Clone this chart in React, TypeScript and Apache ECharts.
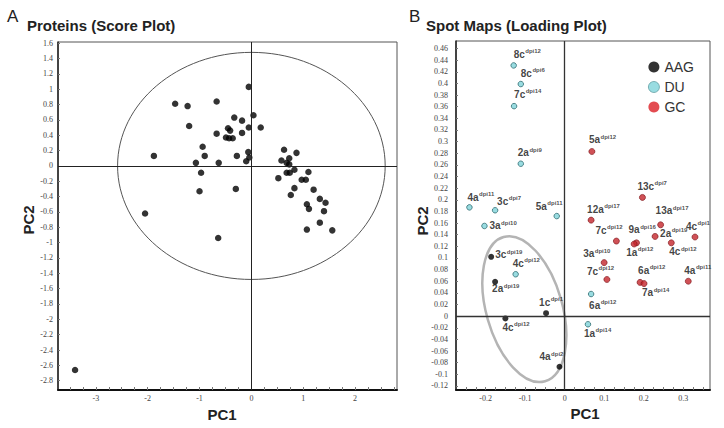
import React, { useEffect, useRef } from 'react';
import * as echarts from 'echarts';

// ---------- Panel A: Proteins (Score Plot) ----------
const scorePC1 = [
  -0.05, -1.47, -1.23, -0.67, -0.33, -0.18, 0.04, -1.2, -0.45, -0.41, -0.05, 0.18, -0.67, -0.18,
  -0.49, -0.43, -0.36, -0.94, -1.88, -0.9, -0.28, -0.06, -0.04, -1.07, -0.63, -0.1, -0.97, -1.0,
  -0.3, -2.05, -0.64, -3.4, 0.63, 0.87, 0.73, 0.58, 0.68, 0.73, 0.83, 0.74, 0.68, 1.1, 0.52, 0.97,
  1.05, 0.83, 1.2, 0.76, 1.32, 1.43, 1.07, 1.11, 1.4, 1.32, 1.07, 1.56,
];
const scorePC2 = [
  1.03, 0.81, 0.78, 0.84, 0.63, 0.59, 0.66, 0.52, 0.49, 0.46, 0.5, 0.5, 0.42, 0.43, 0.37, 0.36,
  0.36, 0.25, 0.13, 0.13, 0.13, 0.18, 0.11, 0.04, 0.04, 0.06, -0.09, -0.33, -0.3, -0.62, -0.94,
  -2.66, 0.21, 0.17, 0.1, 0.07, 0.04, 0.02, -0.05, -0.09, -0.09, -0.08, -0.16, -0.18, -0.18, -0.29,
  -0.31, -0.38, -0.43, -0.48, -0.5, -0.56, -0.59, -0.74, -0.83, -0.84,
];
// confidence ellipse (semi-axes in PC units)
const scoreEllipse = [0, 0, 2.58, 1.48];
const scoreXLabels = [-3, -2, -1, 0, 1, 2];
const scoreXTicks = [
  -3.5, -3.25, -3, -2.75, -2.5, -2.25, -2, -1.75, -1.5, -1.25, -1, -0.75, -0.5, -0.25, 0, 0.25, 0.5,
  0.75, 1, 1.25, 1.5, 1.75, 2, 2.25, 2.5, 2.75,
];
const scoreYLabels = [
  1.6, 1.4, 1.2, 1, 0.8, 0.6, 0.4, 0.2, 0, -0.2, -0.4, -0.6, -0.8, -1, -1.2, -1.4, -1.6, -1.8, -2,
  -2.2, -2.4, -2.6, -2.8,
];

// ---------- Panel B: Spot Maps (Loading Plot) ----------
const aagSpots = ['3c', '2a', '1c', '4c', '4a'];
const aagDpi = ['19', '19', '1', '12', '2'];
const aagPC1 = [-0.186, -0.176, -0.047, -0.15, -0.013];
const aagPC2 = [0.102, 0.059, 0.005, -0.004, -0.087];

const duSpots = ['8c', '8c', '7c', '2a', '4a', '3c', '5a', '3a', '4c', '6a', '1a'];
const duDpi = ['12', '6', '14', '9', '11', '7', '11', '10', '12', '12', '14'];
const duPC1 = [-0.129, -0.111, -0.128, -0.111, -0.241, -0.176, -0.02, -0.203, -0.124, 0.067, 0.059];
const duPC2 = [0.431, 0.399, 0.361, 0.262, 0.187, 0.182, 0.172, 0.155, 0.072, 0.038, -0.014];

const gcSpots = ['5a', '13c', '12a', '13a', '7c', '9a', '2a', '4c', '1a', '4c', '3a', '7c', '6a', '7a', '4a'];
const gcDpi = ['12', '7', '17', '17', '12', '16', '19', '1', '12', '12', '10', '12', '12', '14', '11'];
const gcPC1 = [0.069, 0.197, 0.067, 0.243, 0.131, 0.182, 0.229, 0.33, 0.176, 0.27, 0.1, 0.107, 0.191, 0.201, 0.313];
const gcPC2 = [0.283, 0.204, 0.165, 0.157, 0.129, 0.126, 0.137, 0.136, 0.124, 0.126, 0.092, 0.063, 0.058, 0.056, 0.06];

const loadXLabels = [-0.2, -0.1, 0, 0.1, 0.2, 0.3];
const loadXTicks = [
  -0.25, -0.225, -0.2, -0.175, -0.15, -0.125, -0.1, -0.075, -0.05, -0.025, 0, 0.025, 0.05, 0.075, 0.1,
  0.125, 0.15, 0.175, 0.2, 0.225, 0.25, 0.275, 0.3, 0.325, 0.35,
];
const loadYLabels = [
  0.46, 0.44, 0.42, 0.4, 0.38, 0.36, 0.34, 0.32, 0.3, 0.28, 0.26, 0.24, 0.22, 0.2, 0.18, 0.16, 0.14,
  0.12, 0.1, 0.08, 0.06, 0.04, 0.02, 0, -0.02, -0.04, -0.06, -0.08, -0.1, -0.12,
];
// AAG grouping ellipse centre (PC units)
const aagEllipseCentre = [-0.102, 0.012];

// ---------- layout (label offsets in px, relative to the dot) ----------
const aagLabelOffsets = [[4, -2], [-3, 7], [-7, -11], [-3, 9], [-20, -10]];
const duLabelOffsets = [
  [0, -11], [0, -11], [0, -12], [-3, -11], [-2, -10], [2, -9], [-21, -10], [5, 0], [-3, -11], [-2, 11], [-4, 9],
];
const gcLabelOffsets = [
  [-3, -12], [-5, -11], [-4, -11], [-5, -14], [-21, -11], [-8, -13], [5, -3], [-9, -11], [-8, 8], [-2, 9],
  [-21, -9], [-20, -8], [-2, -12], [-2, 9], [-4, -11],
];

const fmt = (v: number) => String(parseFloat(Number(v).toFixed(3)));
const TICK_FONT = 'Liberation Serif';
const SANS = 'Liberation Sans';

function spotData(spots: string[], dpi: string[], xs: number[], ys: number[], offs: number[][]) {
  return spots.map((s, i) => ({
    value: [xs[i], ys[i]],
    spot: s,
    dpi: dpi[i],
    label: { offset: offs[i] },
  }));
}

const spotLabel = {
  show: true,
  position: 'inside',
  align: 'left',
  verticalAlign: 'middle',
  formatter: (p: any) => `{m|${p.data.spot}}{s|dpi${p.data.dpi}}`,
  rich: {
    m: { fontSize: 10, fontWeight: 'bold', fontFamily: SANS, color: '#111', lineHeight: 12 },
    s: { fontSize: 6, fontWeight: 'bold', fontFamily: SANS, color: '#222', verticalAlign: 'top', padding: [0, 0, 0, 0.5] },
  },
};

export default function App() {
  const ref = useRef<HTMLDivElement>(null);
  useEffect(() => {
    document.body.style.margin = '0';
    const chart = echarts.init(ref.current!, null, { renderer: 'svg' });
    const zeroLines = (color: string, width: number) => ({
      silent: true,
      symbol: ['none', 'none'],
      label: { show: false },
      lineStyle: { color, width, type: 'solid' },
      data: [{ xAxis: 0 }, { yAxis: 0 }],
    });
    const option: any = {
      animation: false,
      backgroundColor: '#fff',
      grid: [
        { left: 58, top: 42, width: 339, height: 348, show: true, borderColor: '#555', borderWidth: 1 },
        { left: 456, top: 41, width: 254, height: 349, show: true, borderColor: '#555', borderWidth: 1 },
      ],
      xAxis: [
        {
          gridIndex: 0, type: 'value', min: -3.729, max: 2.808,
          axisLine: { show: true, onZero: false, lineStyle: { color: '#111', width: 2 } },
          splitLine: { show: false },
          axisTick: { show: true, inside: true, length: 3, customValues: scoreXTicks, lineStyle: { color: '#777' } },
          axisLabel: { customValues: scoreXLabels, fontSize: 8, fontFamily: TICK_FONT, color: '#444', margin: 4, formatter: fmt },
        },
        {
          gridIndex: 1, type: 'value', min: -0.275, max: 0.368,
          axisLine: { show: true, onZero: false, lineStyle: { color: '#111', width: 2 } },
          splitLine: { show: false },
          axisTick: { show: true, inside: true, length: 3, customValues: loadXTicks, lineStyle: { color: '#777' } },
          axisLabel: { customValues: loadXLabels, fontSize: 8, fontFamily: TICK_FONT, color: '#444', margin: 4, formatter: fmt },
        },
      ],
      yAxis: [
        {
          gridIndex: 0, type: 'value', min: -2.921, max: 1.615,
          axisLine: { show: true, onZero: false, lineStyle: { color: '#222', width: 1.5 } },
          splitLine: { show: false },
          axisTick: { show: true, inside: true, length: 2, customValues: scoreYLabels, lineStyle: { color: '#777' } },
          axisLabel: { customValues: scoreYLabels, fontSize: 8, fontFamily: TICK_FONT, color: '#444', margin: 5, formatter: fmt },
        },
        {
          gridIndex: 1, type: 'value', min: -0.127, max: 0.473,
          axisLine: { show: true, onZero: false, lineStyle: { color: '#222', width: 1.5 } },
          splitLine: { show: false },
          axisTick: { show: true, inside: true, length: 2, customValues: loadYLabels, lineStyle: { color: '#777' } },
          axisLabel: { customValues: loadYLabels, fontSize: 8, fontFamily: TICK_FONT, color: '#444', margin: 8, formatter: fmt },
        },
      ],
      legend: {
        orient: 'vertical',
        left: 643,
        top: 55,
        itemWidth: 11,
        itemHeight: 11,
        itemGap: 6,
        icon: 'circle',
        textStyle: { fontSize: 14, fontFamily: SANS, color: '#333', lineHeight: 14 },
        data: [
          { name: 'AAG', itemStyle: { color: '#000', borderWidth: 0 } },
          { name: 'DU', itemStyle: { color: '#7fd3da', borderColor: '#4a8a90', borderWidth: 0.8 } },
          { name: 'GC', itemStyle: { color: '#dc1f26', borderWidth: 0 } },
        ],
      },
      series: [
        {
          type: 'custom',
          xAxisIndex: 0, yAxisIndex: 0,
          silent: true,
          data: [scoreEllipse],
          renderItem: (params: any, api: any) => {
            const c = api.coord([api.value(0), api.value(1)]);
            const s = api.size([api.value(2), api.value(3)]);
            return {
              type: 'ellipse',
              shape: { cx: c[0], cy: c[1], rx: s[0], ry: s[1] },
              style: { fill: 'none', stroke: '#555', lineWidth: 1 },
            };
          },
          z: 1,
        },
        {
          type: 'scatter',
          name: 'scores',
          xAxisIndex: 0, yAxisIndex: 0,
          symbolSize: 6.5,
          itemStyle: { color: '#000' },
          data: scorePC1.map((x, i) => [x, scorePC2[i]]),
          markLine: zeroLines('#222', 1),
          z: 3,
        },
        {
          type: 'custom',
          xAxisIndex: 1, yAxisIndex: 1,
          silent: true,
          data: [aagEllipseCentre],
          renderItem: (params: any, api: any) => {
            const c = api.coord([api.value(0), api.value(1)]);
            return {
              type: 'ellipse',
              x: c[0], y: c[1],
              rotation: 0.28,
              shape: { cx: 0, cy: 0, rx: 38, ry: 75 },
              style: { fill: 'none', stroke: '#b4b4b4', lineWidth: 2.5 },
            };
          },
          z: 1,
        },
        {
          type: 'scatter',
          name: 'AAG',
          xAxisIndex: 1, yAxisIndex: 1,
          symbolSize: 6,
          itemStyle: { color: '#000' },
          label: spotLabel,
          data: spotData(aagSpots, aagDpi, aagPC1, aagPC2, aagLabelOffsets),
          markLine: zeroLines('#333', 1.3),
          z: 3,
        },
        {
          type: 'scatter',
          name: 'DU',
          xAxisIndex: 1, yAxisIndex: 1,
          symbolSize: 5.5,
          itemStyle: { color: '#7fd3da', borderColor: '#2f6b70', borderWidth: 1 },
          label: spotLabel,
          data: spotData(duSpots, duDpi, duPC1, duPC2, duLabelOffsets),
          z: 3,
        },
        {
          type: 'scatter',
          name: 'GC',
          xAxisIndex: 1, yAxisIndex: 1,
          symbolSize: 6,
          itemStyle: { color: '#c4262c', borderColor: '#7a1216', borderWidth: 0.8 },
          label: spotLabel,
          data: spotData(gcSpots, gcDpi, gcPC1, gcPC2, gcLabelOffsets),
          z: 3,
        },
      ],
      graphic: [
        { type: 'text', x: 7, y: 16, style: { text: 'A', font: '17px "Liberation Sans"', fill: '#222', verticalAlign: 'middle' } },
        { type: 'text', x: 27, y: 25, style: { text: 'Proteins (Score Plot)', font: 'bold 15px "Liberation Sans"', fill: '#222', verticalAlign: 'middle' } },
        { type: 'text', x: 409, y: 16, style: { text: 'B', font: '17px "Liberation Sans"', fill: '#222', verticalAlign: 'middle' } },
        { type: 'text', x: 426, y: 25, style: { text: 'Spot Maps (Loading Plot)', font: 'bold 15px "Liberation Sans"', fill: '#222', verticalAlign: 'middle' } },
        { type: 'text', x: 222, y: 414, style: { text: 'PC1', font: 'bold 15px "Liberation Sans"', fill: '#222', align: 'center', verticalAlign: 'middle' } },
        { type: 'text', x: 585, y: 413, style: { text: 'PC1', font: 'bold 15px "Liberation Sans"', fill: '#222', align: 'center', verticalAlign: 'middle' } },
        { type: 'text', x: 28, y: 220, rotation: Math.PI / 2, style: { text: 'PC2', font: 'bold 15px "Liberation Sans"', fill: '#222', align: 'center', verticalAlign: 'middle' } },
        { type: 'text', x: 422, y: 221, rotation: Math.PI / 2, style: { text: 'PC2', font: 'bold 15px "Liberation Sans"', fill: '#222', align: 'center', verticalAlign: 'middle' } },
      ],
    };
    chart.setOption(option);
    return () => chart.dispose();
  }, []);
  return <div ref={ref} style={{ width: 724, height: 428 }} />;
}
